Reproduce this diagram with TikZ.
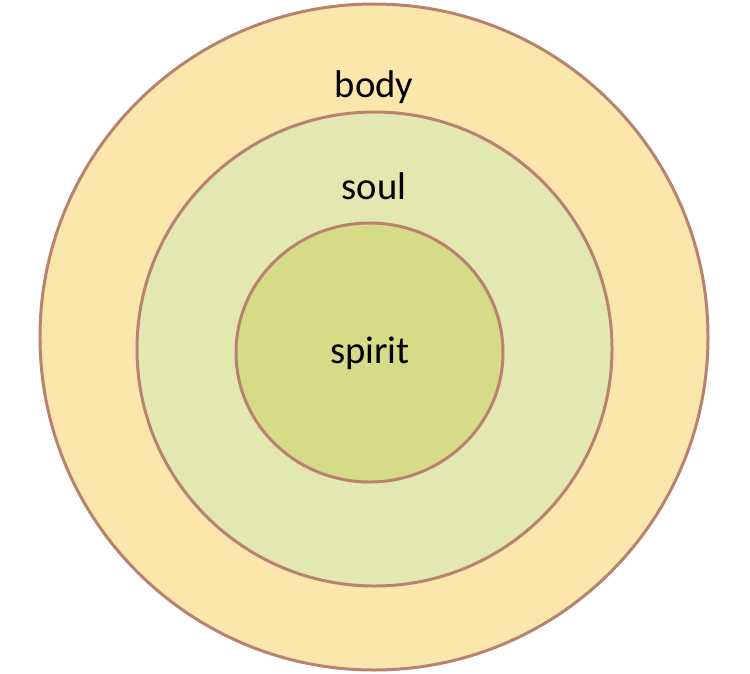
\documentclass[tikz,border=0pt]{standalone}
\usepackage{fontspec}
\setmainfont{Carlito}
\usepackage{tikz}
\usepackage{xcolor}
\definecolor{ringline}{HTML}{B8826F}
\definecolor{bodyfill}{HTML}{FBE6AB}
\definecolor{soulfill}{HTML}{E3E7B0}
\definecolor{spiritfill}{HTML}{D5DB87}

\begin{document}
\begin{tikzpicture}[x=0.02cm,y=-0.02cm,line width=1.7pt,
  ring/.style={draw=ringline},
  lbl/.style={font=\fontsize{22}{26}\selectfont,text=black,inner sep=0pt}]
\useasboundingbox (0,0) rectangle (750,673);
\filldraw[ring,fill=bodyfill] (374,337) ellipse (334 and 333);
\filldraw[ring,fill=soulfill] (374.5,349) ellipse (237.5 and 237);
\filldraw[ring,fill=spiritfill] (369.5,352.5) ellipse (133.5 and 129.5);
\node[lbl] (body) at (374,87) {body};
\node[lbl] (soul) at (374,186) {soul};
\node[lbl] (spirit) at (370,353) {spirit};
\end{tikzpicture}
\end{document}
